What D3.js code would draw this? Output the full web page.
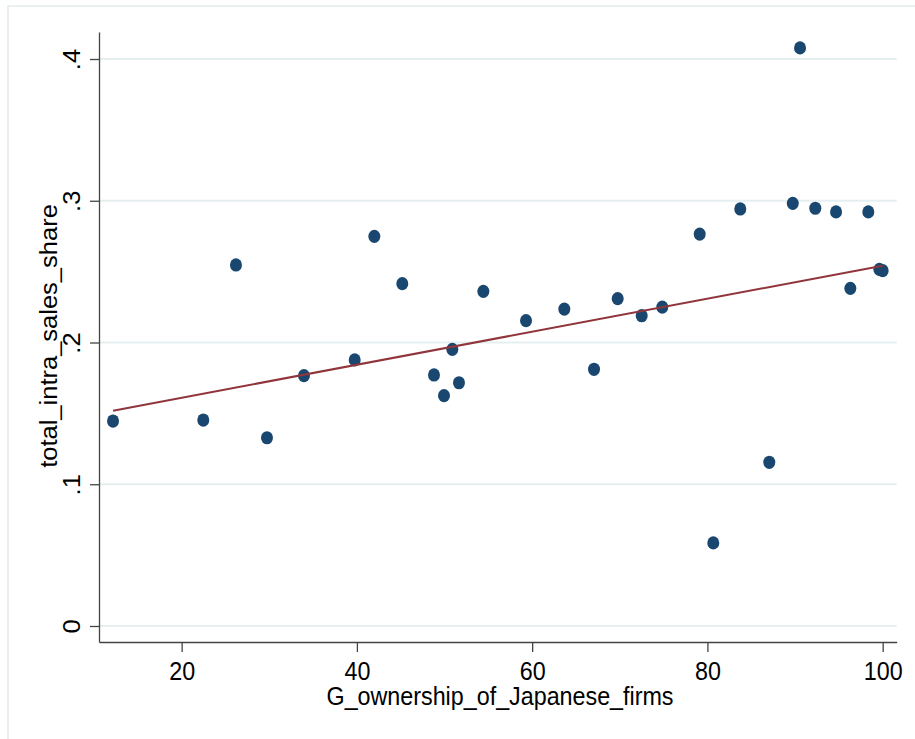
<!DOCTYPE html>
<html>
<head>
<meta charset="utf-8">
<script src="https://cdn.jsdelivr.net/npm/d3@7"></script>
<style>
  body { margin: 0; background: #fff; }
  svg { display: block; font-family: "Liberation Sans", Arial, sans-serif; }
</style>
</head>
<body>
<script>
// values
const ownership = [12.17, 22.47, 26.20, 29.74, 33.96, 39.75, 41.99, 45.18, 48.80, 49.94,
  50.89, 51.65, 54.43, 59.30, 63.67, 67.06, 69.76, 72.50, 74.85, 79.12,
  80.67, 83.75, 87.06, 89.74, 90.57, 92.31, 94.68, 96.31, 98.36, 99.62, 100.0];
const intraShare = [0.1446, 0.1453, 0.2547, 0.1328, 0.1766, 0.1877, 0.2749, 0.2415, 0.1771, 0.1625,
  0.1952, 0.1716, 0.2361, 0.2154, 0.2236, 0.1811, 0.2309, 0.2189, 0.2250, 0.2765,
  0.0586, 0.2942, 0.1155, 0.2982, 0.4078, 0.2947, 0.2921, 0.2382, 0.2921, 0.2516, 0.2507];
// fitted line end points, as drawn in the picture
const fitX = [12.17, 100.0];
const fitY = [0.1519, 0.2542];
const xTicks = [20, 40, 60, 80, 100];
const yTicks = [0, 0.1, 0.2, 0.3, 0.4];
const xTitle = "G_ownership_of_Japanese_firms";
const yTitle = "total_intra_sales_share";

const data = ownership.map((x, i) => ({ x: x, y: intraShare[i] }));
const fit = fitX.map((x, i) => ({ x: x, y: fitY[i] }));

const W = 915, H = 739;
const stretch = 1.095; // the picture is slightly taller than wide

const svg = d3.select("body").append("svg")
  .attr("width", W)
  .attr("height", H);

// outer graph region frame
svg.append("rect")
  .attr("x", 8).attr("y", 6)
  .attr("width", W).attr("height", H)
  .attr("fill", "#fff")
  .attr("stroke", "#e4ecec")
  .attr("stroke-width", 1.5);

const x = d3.scaleLinear().domain([10.57, 101.6]).range([99, 896.7]);
const y = d3.scaleLinear().domain([-0.01129, 0.41905]).range([642, 32]);

// gridlines
svg.append("g")
  .selectAll("line")
  .data(yTicks)
  .enter().append("line")
  .attr("x1", x.range()[0]).attr("x2", x.range()[1])
  .attr("y1", d => y(d)).attr("y2", d => y(d))
  .attr("stroke", "#e6eff0")
  .attr("stroke-width", 1.8);

// y axis
const yAxis = svg.append("g")
  .attr("transform", "translate(99,0)")
  .call(d3.axisLeft(y)
    .tickValues(yTicks)
    .tickSize(9)
    .tickSizeOuter(0)
    .tickFormat(d => d === 0 ? "0" : d3.format(".1f")(d).replace(/^0/, "")));

yAxis.selectAll("text")
  .attr("x", null).attr("dy", null)
  .attr("text-anchor", "middle")
  .attr("transform", "translate(-19,0) rotate(-90) scale(" + stretch + ",1)")
  .style("font-size", "23.3px")
  .attr("fill", "#000");

// x axis
const xAxis = svg.append("g")
  .attr("transform", "translate(0,642)")
  .call(d3.axisBottom(x)
    .tickValues(xTicks)
    .tickSize(10)
    .tickSizeOuter(0));

xAxis.selectAll("text")
  .attr("y", null).attr("dy", null)
  .attr("transform", "translate(0,38) scale(1," + stretch + ")")
  .style("font-size", "23.3px")
  .attr("fill", "#000");

svg.selectAll(".domain, .tick line")
  .attr("stroke", "#444")
  .attr("stroke-width", 1.3);

// axis titles
svg.append("text")
  .attr("transform", "translate(500,705) scale(1," + stretch + ")")
  .attr("text-anchor", "middle")
  .style("font-size", "23.3px")
  .text(xTitle);

svg.append("text")
  .attr("transform", "translate(57,336) rotate(-90) scale(" + stretch + ",1)")
  .attr("text-anchor", "middle")
  .style("font-size", "23.3px")
  .text(yTitle);

// points
svg.append("g")
  .selectAll("ellipse")
  .data(data)
  .enter().append("ellipse")
  .attr("cx", d => x(d.x))
  .attr("cy", d => y(d.y))
  .attr("rx", 6)
  .attr("ry", 6.6)
  .attr("fill", "#1a476f");

// fitted line
svg.append("path")
  .datum(fit)
  .attr("d", d3.line().x(d => x(d.x)).y(d => y(d.y)))
  .attr("fill", "none")
  .attr("stroke", "#90353b")
  .attr("stroke-width", 2);
</script>
</body>
</html>
